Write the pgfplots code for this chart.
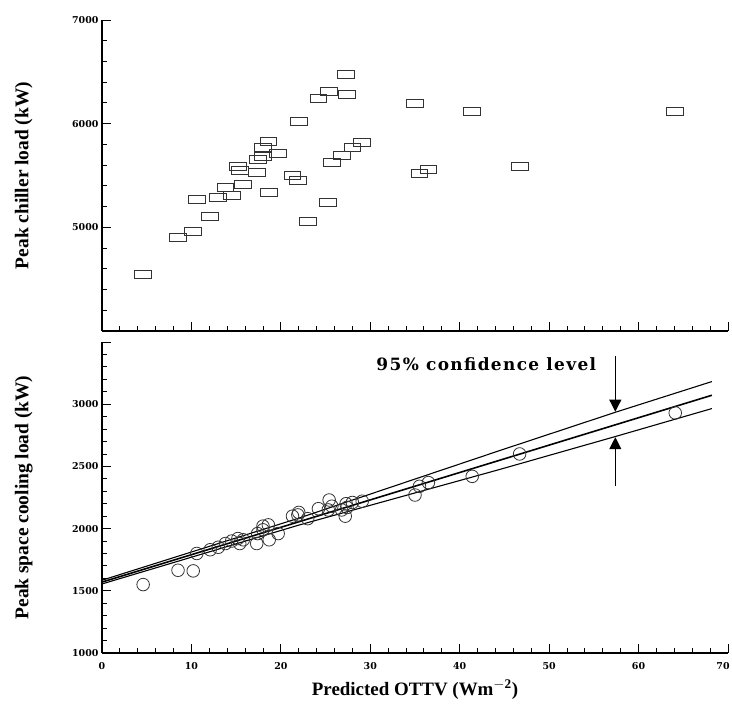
\documentclass[border=0pt]{standalone}
\usepackage{fontspec}
\setmainfont{Liberation Serif}
\newfontfamily\dejaserif{DejaVu Serif}
\newfontfamily\dejaserifwide[LetterSpace=8]{DejaVu Serif}
\usepackage{pgfplots}
\pgfplotsset{compat=1.18}
\usetikzlibrary{arrows.meta}

\pgfplotsset{
  common/.style={
    scale only axis, width=626bp, height=311bp,
    axis x line*=bottom, axis y line*=left,
    tick align=inside,
    xmin=0, xmax=70, xtick={0,10,...,70}, minor x tick num=4,
    minor y tick num=4,
    major tick length=9bp, minor tick length=5bp,
    tick style={black, line width=0.9pt},
    axis line style={black, line width=1.1pt},
    /pgf/number format/assume math mode=true,
    /pgf/number format/1000 sep={},
    ticklabel style={font=\dejaserif\fontsize{9.5}{11}\selectfont\bfseries},
    every axis y label/.style={at={(axis description cs:-0.125,0.5)}, rotate=90, anchor=center,
      font=\fontsize{19.5}{21}\selectfont\bfseries},
    every axis x label/.style={at={(axis description cs:0.5,-0.118)}, anchor=center,
      font=\fontsize{19}{21}\selectfont\bfseries},
    clip=false,
  }
}

\begin{document}
\begin{tikzpicture}
\useasboundingbox (-102bp,-53bp) rectangle (630bp,653bp);

% ---------- top panel ----------
\begin{axis}[common,
  at={(0,322bp)}, anchor=south west,
  ymin=4000, ymax=7000,
  ytick={4000,5000,6000,7000},
  yticklabels={{},5000,6000,7000},
  xticklabels={},
  ylabel={Peak chiller load (kW)},
]
\addplot[only marks, mark=square, mark size=4bp,
  mark options={xscale=2.1, line width=0.8pt, draw=black!80, fill=white, rounded corners=1bp}]
  coordinates {
  (4.6,4548) (8.5,4904) (10.2,4962) (10.6,5269) (12.1,5106)
  (13.0,5288) (13.8,5385) (14.5,5308) (15.2,5587) (15.4,5548)
  (15.8,5413) (17.3,5529) (17.4,5654) (18.0,5683) (18.0,5769)
  (18.6,5827) (18.7,5337) (19.7,5712) (21.3,5500) (21.9,5452)
  (22.0,6019) (23.0,5058) (24.2,6240) (25.3,5240) (25.4,6308)
  (25.7,5625) (26.8,5692) (27.3,6471) (27.4,6279) (28.0,5769)
  (29.1,5817) (35.0,6192) (35.5,5519) (36.5,5558) (41.4,6115)
  (46.7,5587) (64.1,6115)
  };
\end{axis}

% ---------- bottom panel ----------
\begin{axis}[common,
  at={(0,0)}, anchor=south west,
  ymin=1000, ymax=3500,
  ytick={1000,1500,...,3500},
  yticklabels={1000,1500,2000,2500,3000,{}},
  xticklabels={0,10,20,30,40,50,60,{70\kern10bp}},
  xticklabel style={yshift=-6bp},
  ylabel={Peak space cooling load (kW)},
  xlabel={Predicted OTTV (Wm$^{\mathbf{-2}}$)},
]
\addplot[only marks, mark=o, mark size=6.3bp,
  mark options={line width=0.8pt, draw=black!80}]
  coordinates {
  (4.6,1550) (8.5,1665) (10.2,1660) (10.6,1800) (12.1,1830)
  (13.0,1850) (13.8,1880) (14.5,1900) (15.2,1920) (15.4,1880)
  (15.8,1910) (17.3,1880) (17.4,1960) (18.0,1990) (18.0,2020)
  (18.6,2030) (18.7,1910) (19.7,1960) (21.3,2100) (21.9,2110)
  (22.0,2130) (23.0,2080) (24.2,2160) (25.3,2150) (25.4,2230)
  (25.7,2180) (26.8,2150) (27.3,2200) (27.2,2100) (27.4,2170)
  (28.0,2210) (29.1,2220) (35.0,2270) (35.5,2340) (36.5,2370)
  (41.4,2420) (46.7,2600) (64.1,2930)
  };
\addplot[black, line width=1.6pt] coordinates {(0,1570) (68.2,3072)};
\addplot[black, line width=1.1pt] coordinates {(0,1585) (22,2084) (44.5,2628) (57.4,2935) (68.2,3182)};
\addplot[black, line width=1.1pt] coordinates {(0,1555) (22,2028) (44.5,2476) (57.4,2740) (68.2,2965)};

\node[anchor=west, font=\dejaserifwide\bfseries\fontsize{17}{19}\selectfont] at (axis cs:30.3,3320) {95\% confidence level};
\draw[line width=1.1pt, -{Triangle[length=12bp, width=12bp]}] (axis cs:57.4,3390) -- (axis cs:57.4,2940);
\draw[line width=1.1pt, -{Triangle[length=12bp, width=12bp]}] (axis cs:57.4,2344) -- (axis cs:57.4,2735);
\end{axis}
\end{tikzpicture}
\end{document}
